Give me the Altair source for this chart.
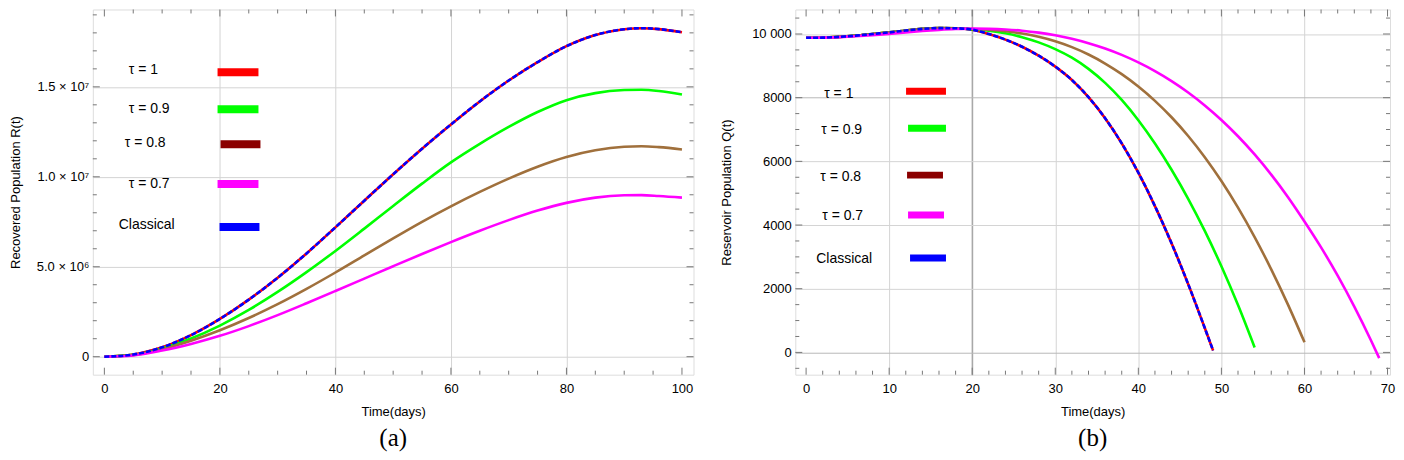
import altair as alt
import pandas as pd

NAMES = ["τ = 1", "τ = 0.9", "τ = 0.8", "τ = 0.7", "Classical"]
LINE_COLORS = ["#ff0000", "#00ff00", "#a0703c", "#ff00ff", "#0000ff"]
SWATCH_COLORS = ["#ff0000", "#00ff00", "#8b0000", "#ff00ff", "#0000ff"]

# ---------------- Panel (a): Recovered population R(t), in millions ----------------
days_a = [0, 5, 10, 15, 20, 25, 30, 35, 40, 45, 50, 55, 60, 65, 70, 75, 80, 85, 90, 93, 96, 100]
R_tau1 = [0, 0.12, 0.52, 1.2, 2.1, 3.17, 4.39, 5.74, 7.19, 8.67, 10.14, 11.56, 12.91, 14.19,
          15.35, 16.37, 17.26, 17.88, 18.2, 18.26, 18.21, 18.03]
R_tau09 = [0, 0.1, 0.46, 1.01, 1.73, 2.6, 3.6, 4.7, 5.88, 7.12, 8.38, 9.62, 10.8, 11.83,
           12.77, 13.6, 14.26, 14.65, 14.82, 14.84, 14.77, 14.57]
R_tau08 = [0, 0.09, 0.42, 0.89, 1.47, 2.15, 2.92, 3.77, 4.68, 5.63, 6.58, 7.5, 8.36, 9.16,
           9.9, 10.56, 11.1, 11.47, 11.67, 11.7, 11.65, 11.52]
R_tau07 = [0, 0.07, 0.34, 0.71, 1.16, 1.7, 2.31, 2.97, 3.65, 4.34, 5.03, 5.71, 6.37, 7.0,
           7.59, 8.12, 8.55, 8.84, 8.97, 8.98, 8.93, 8.84]
R_classical = [0, 0.12, 0.52, 1.2, 2.1, 3.17, 4.39, 5.74, 7.19, 8.67, 10.14, 11.56, 12.91, 14.19,
               15.35, 16.37, 17.26, 17.88, 18.2, 18.26, 18.21, 18.03]
ytick_vals_a = [0, 5e6, 1e7, 1.5e7]
ytick_labels_a = ["0", "5.0 × 10⁶", "1.0 × 10⁷", "1.5 × 10⁷"]
xtick_vals_a = [0, 20, 40, 60, 80, 100]

# ---------------- Panel (b): Reservoir population Q(t) ----------------
days_b_tau1 = [0, 2, 4, 6, 8, 10, 12, 14, 16, 18, 20, 22, 24, 26, 28, 30, 32, 34, 36, 38,
               40, 42, 44, 46, 48, 49]
Q_tau1 = [9880, 9885, 9910, 9950, 10000, 10050, 10110, 10160, 10185, 10180, 10135, 9999,
          9823, 9599, 9319, 8975, 8555, 8015, 7355, 6565, 5645, 4595, 3425, 2145, 765, 60]
days_b_tau09 = [0, 2, 4, 6, 8, 10, 12, 14, 16, 18, 20, 22, 24, 26, 28, 30, 32, 34, 36, 38,
                40, 42, 44, 46, 48, 50, 52, 54]
Q_tau09 = [9880, 9885, 9910, 9950, 10000, 10050, 10110, 10160, 10185, 10180, 10145, 10101,
           10021, 9901, 9737, 9525, 9255, 8905, 8465, 7929, 7293, 6561, 5737, 4825, 3815,
           2705, 1485, 155]
days_b_tau08 = [0, 2, 4, 6, 8, 10, 12, 14, 16, 18, 20, 22, 24, 26, 28, 30, 32, 34, 36, 38,
                40, 42, 44, 46, 48, 50, 52, 54, 56, 58, 60]
Q_tau08 = [9880, 9885, 9910, 9950, 10000, 10050, 10110, 10160, 10185, 10180, 10155, 10131,
           10087, 10015, 9911, 9771, 9587, 9355, 9073, 8739, 8351, 7901, 7385, 6797, 6131,
           5381, 4545, 3621, 2609, 1509, 321]
days_b_tau07 = [0, 2, 4, 6, 8, 10, 12, 14, 16, 18, 20, 22, 24, 26, 28, 30, 32, 34, 36, 38,
                40, 42, 44, 46, 48, 50, 52, 54, 56, 58, 60, 62, 64, 66, 68, 69]
Q_tau07 = [9880, 9885, 9903, 9930, 9965, 10005, 10050, 10092, 10128, 10155, 10168, 10162,
           10142, 10104, 10044, 9960, 9850, 9712, 9544, 9344, 9108, 8835, 8522, 8164, 7758,
           7301, 6789, 6217, 5584, 4883, 4113, 3299, 2409, 1437, 380, -181]
days_b_classical = [0, 2, 4, 6, 8, 10, 12, 14, 16, 18, 20, 22, 24, 26, 28, 30, 32, 34, 36, 38,
                    40, 42, 44, 46, 48, 49]
Q_classical = [9880, 9885, 9910, 9950, 10000, 10050, 10110, 10160, 10185, 10180, 10135, 9999,
               9823, 9599, 9319, 8975, 8555, 8015, 7355, 6565, 5645, 4595, 3425, 2145, 765, 60]
ytick_vals_b = [0, 2000, 4000, 6000, 8000, 10000]
ytick_labels_b = ["0", "2000", "4000", "6000", "8000", "10 000"]
xtick_vals_b = [0, 10, 20, 30, 40, 50, 60, 70]

# ---------------- layout constants ----------------
W_A, W_B, H = 602, 596, 366
FONT = "Liberation Sans"
GRID = "#d4d4d4"
TICK = "#777777"


def long_df(days_list, vals_list, factor=1.0):
    rows = []
    for name, days, vals in zip(NAMES, days_list, vals_list):
        for d, v in zip(days, vals):
            rows.append({"t": d, "v": v * factor, "series": name})
    return pd.DataFrame(rows)


df_a = long_df([days_a] * 5, [R_tau1, R_tau09, R_tau08, R_tau07, R_classical], 1e6)
df_b = long_df([days_b_tau1, days_b_tau09, days_b_tau08, days_b_tau07, days_b_classical],
               [Q_tau1, Q_tau09, Q_tau08, Q_tau07, Q_classical])


def label_expr(vals, labels):
    expr = "''"
    for v, l in reversed(list(zip(vals, labels))):
        expr = f"datum.value == {v} ? '{l}' : ({expr})"
    return expr


def ticks_df(major, minor):
    rows = [{"v": m, "major": True} for m in major] + \
           [{"v": m, "major": False} for m in minor if m not in major]
    return pd.DataFrame(rows)


def cond(values, yes, no):
    test = " || ".join(f"datum.value == {d}" for d in values) or "false"
    return {"condition": {"test": test, "value": yes}, "value": no}


def panel(df, xdom, ydom, W, xvals, yvals, ylabels, ytitle, xmaj, xmin, ymaj, ymin,
          legend_text_x, legend_text_y, legend_sw, legend_sw_y, sw_width, title,
          xgrid_hide, dark_x, dark_y, ytitle_pad):
    xs = alt.Scale(domain=xdom, nice=False, zero=False)
    ys = alt.Scale(domain=ydom, nice=False, zero=False)
    xaxis = alt.Axis(values=xvals, title="Time(days)", grid=True,
                     gridColor=cond(dark_x, "#a8a8a8", GRID),
                     gridWidth=cond(dark_x, 1.6, 1),
                     gridOpacity=cond(xgrid_hide, 0, 1), ticks=False, domain=False,
                     labelFont=FONT, labelFontSize=13, labelColor="black", labelPadding=8,
                     titleFont=FONT, titleFontSize=13, titleFontWeight="normal",
                     titleColor="black", titlePadding=10, labelFlush=False)
    yaxis = alt.Axis(values=yvals, title=ytitle, grid=True,
                     gridColor=cond(dark_y, "#b8b8b8", GRID), ticks=False,
                     domain=False, labelFont=FONT, labelFontSize=13, labelColor="black",
                     labelPadding=4, labelExpr=label_expr(yvals, ylabels), titleFont=FONT,
                     titleFontSize=13, titleFontWeight="normal", titleColor="black",
                     titlePadding=ytitle_pad)

    tau_df = df[df["series"] != "Classical"]
    cls_df = df[df["series"] == "Classical"]
    lines = alt.Chart(tau_df).mark_line(strokeWidth=2.6, interpolate="monotone").encode(
        x=alt.X("t:Q", scale=xs, axis=xaxis),
        y=alt.Y("v:Q", scale=ys, axis=yaxis),
        color=alt.Color("series:N", scale=alt.Scale(domain=NAMES[:4], range=LINE_COLORS[:4]),
                        legend=None),
        order=alt.Order("t:Q"),
    )
    classical = alt.Chart(cls_df).mark_line(strokeWidth=2.6, interpolate="monotone",
                                            color=LINE_COLORS[4], strokeDash=[5, 2]).encode(
        x=alt.X("t:Q", scale=xs), y=alt.Y("v:Q", scale=ys), order=alt.Order("t:Q"))

    txd = ticks_df(xmaj, xmin)
    tyd = ticks_df(ymaj, ymin)
    tick_bottom = alt.Chart(txd).mark_rule(color=TICK, strokeWidth=1).encode(
        x=alt.X("v:Q", scale=xs), y=alt.Y("p0:Q", scale=None), y2="p1:Q"
    ).transform_calculate(p0=f"{H}", p1=f"{H} - (datum.major ? 7 : 4)")
    tick_top = alt.Chart(txd).mark_rule(color=TICK, strokeWidth=1).encode(
        x=alt.X("v:Q", scale=xs), y=alt.Y("p0:Q", scale=None), y2="p1:Q"
    ).transform_calculate(p0="0", p1="datum.major ? 7 : 4")
    tick_left = alt.Chart(tyd).mark_rule(color=TICK, strokeWidth=1).encode(
        y=alt.Y("v:Q", scale=ys), x=alt.X("p0:Q", scale=None), x2="p1:Q"
    ).transform_calculate(p0="0", p1="datum.major ? 7 : 4")
    tick_right = alt.Chart(tyd).mark_rule(color=TICK, strokeWidth=1).encode(
        y=alt.Y("v:Q", scale=ys), x=alt.X("p0:Q", scale=None), x2="p1:Q"
    ).transform_calculate(p0=f"{W}", p1=f"{W} - (datum.major ? 7 : 4)")

    leg = pd.DataFrame({
        "label": NAMES, "c": SWATCH_COLORS,
        "tx": legend_text_x, "ty": legend_text_y,
        "sx1": [s[0] for s in legend_sw], "sx2": [s[1] for s in legend_sw], "sy": legend_sw_y,
    })
    leg_text = alt.Chart(leg).mark_text(align="left", baseline="middle", font=FONT,
                                        fontSize=14, color="black").encode(
        x=alt.X("tx:Q", scale=None), y=alt.Y("ty:Q", scale=None), text="label:N")
    leg_sw = alt.Chart(leg).mark_rule(strokeWidth=sw_width).encode(
        x=alt.X("sx1:Q", scale=None), x2="sx2:Q", y=alt.Y("sy:Q", scale=None),
        color=alt.Color("c:N", scale=None))

    return alt.layer(lines, classical, tick_bottom, tick_top, tick_left, tick_right,
                     leg_text, leg_sw).properties(
        width=W, height=H,
        title=alt.TitleParams(title, orient="bottom", anchor="middle", frame="group",
                              font="Liberation Serif", fontSize=25, fontWeight="normal",
                              color="black", offset=7))


panel_a = panel(
    df_a, [-2, 102], [-1.0e6, 1.93e7], W_A, xtick_vals_a, ytick_vals_a, ytick_labels_a,
    "Recovered Population R(t)",
    xmaj=[0, 20, 40, 60, 80, 100],
    xmin=[0, 5, 10, 15, 20, 25, 30, 35, 40, 45, 50, 55, 60, 65, 70, 75, 80, 85, 90, 95, 100],
    ymaj=[0, 5e6, 1e7, 1.5e7],
    ymin=[0, 1e6, 2e6, 3e6, 4e6, 5e6, 6e6, 7e6, 8e6, 9e6, 1e7, 1.1e7, 1.2e7, 1.3e7, 1.4e7,
          1.5e7, 1.6e7, 1.7e7, 1.8e7, 1.9e7],
    legend_text_x=[36, 36, 32, 36, 26], legend_text_y=[61, 100, 134, 175, 216],
    legend_sw=[(125, 166), (125, 166), (128, 168), (125, 166), (127, 167)],
    legend_sw_y=[63, 100, 135, 175, 218], sw_width=8, title="(a)",
    xgrid_hide=[0, 100], dark_x=[], dark_y=[], ytitle_pad=14)

panel_b = panel(
    df_b, [-1.3, 70.3], [-700, 10770], W_B, xtick_vals_b, ytick_vals_b, ytick_labels_b,
    "Reservoir Population Q(t)",
    xmaj=[0, 10, 20, 30, 40, 50, 60, 70],
    xmin=[0, 2, 4, 6, 8, 10, 12, 14, 16, 18, 20, 22, 24, 26, 28, 30, 32, 34, 36, 38, 40,
          42, 44, 46, 48, 50, 52, 54, 56, 58, 60, 62, 64, 66, 68, 70],
    ymaj=[0, 2000, 4000, 6000, 8000, 10000],
    ymin=[-500, 0, 500, 1000, 1500, 2000, 2500, 3000, 3500, 4000, 4500, 5000, 5500, 6000,
          6500, 7000, 7500, 8000, 8500, 9000, 9500, 10000, 10500],
    legend_text_x=[29, 26, 25, 27, 21], legend_text_y=[85, 121, 168, 207, 250],
    legend_sw=[(111, 151), (113, 151), (112, 148), (113, 149), (115, 151)],
    legend_sw_y=[82, 119, 166, 206, 249], sw_width=7, title="(b)",
    xgrid_hide=[0, 70], dark_x=[20], dark_y=[0, 8000], ytitle_pad=18)

chart = alt.hconcat(panel_a, panel_b, spacing=102, bounds="flush").properties(
    padding={"left": 0, "top": 0, "right": 0, "bottom": 0}
).configure_view(stroke="#8a8a8a", strokeWidth=1).configure(background="white")

chart.save("out.html", embed_options={"renderer": "svg", "actions": False})
